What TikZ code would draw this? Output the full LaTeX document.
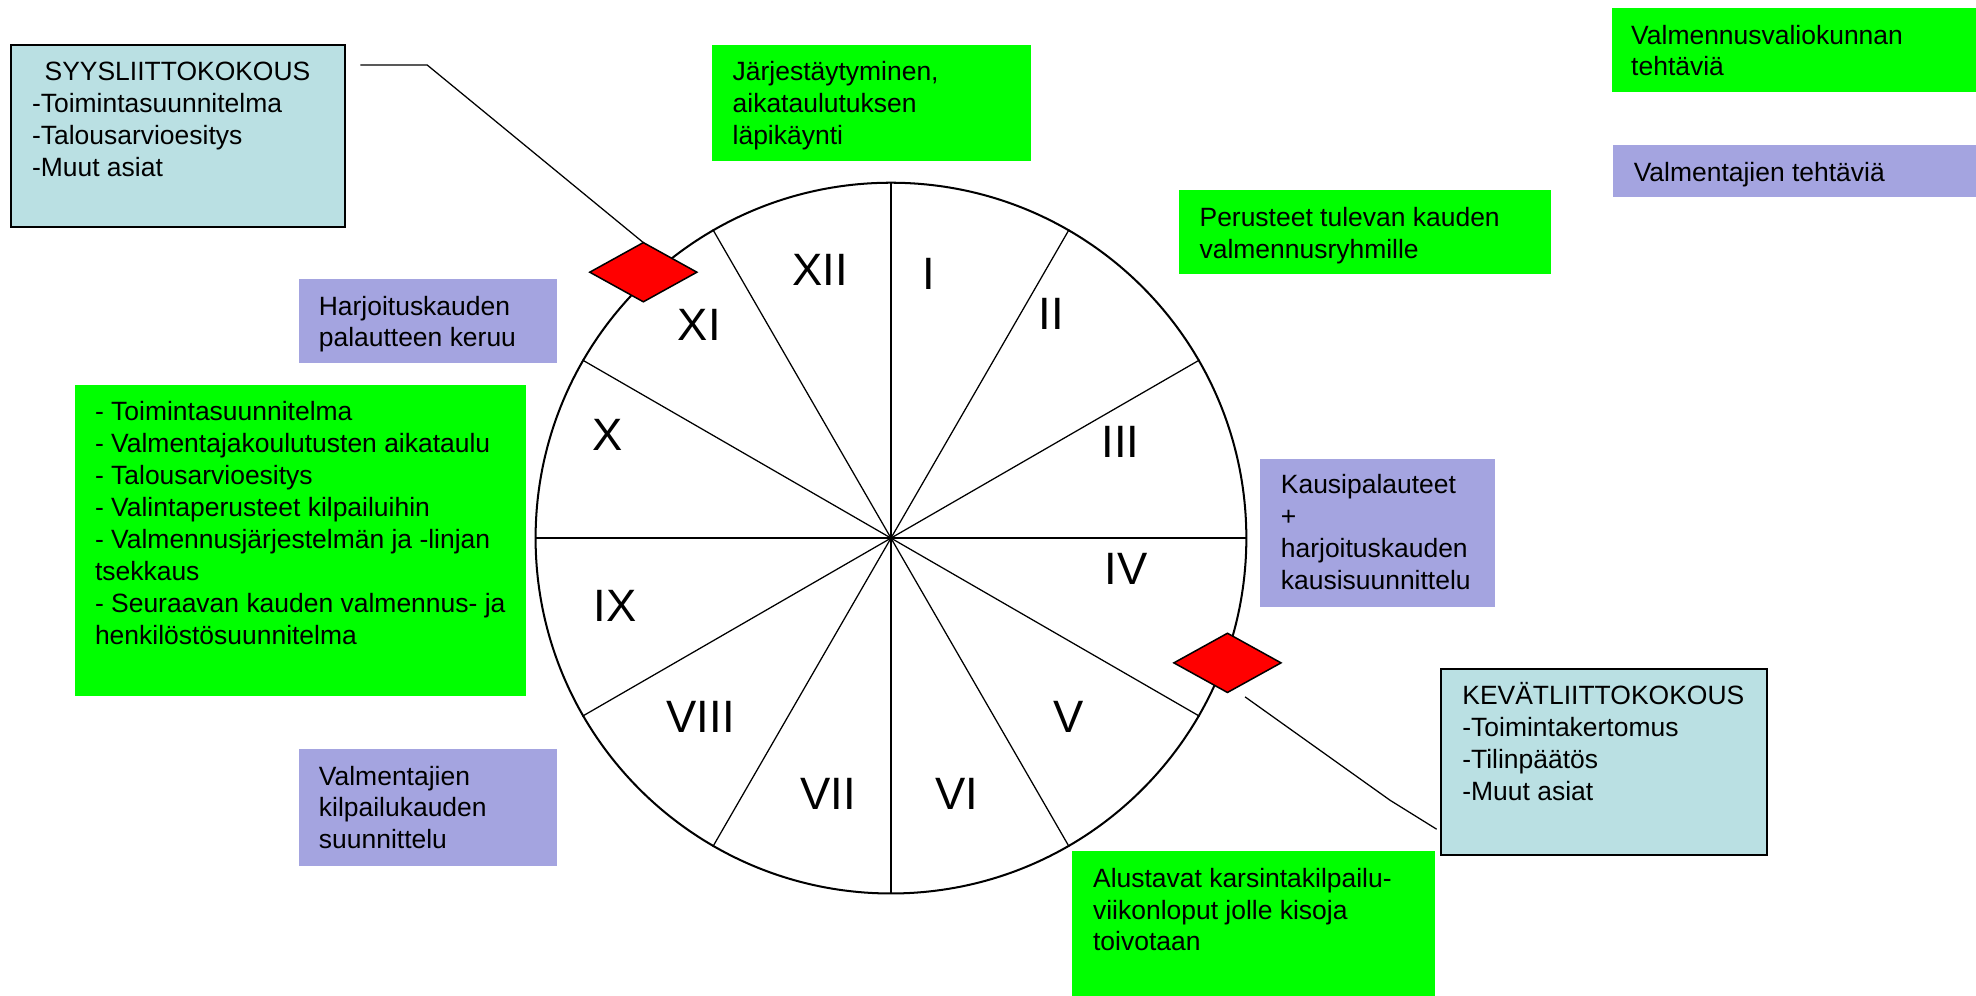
\documentclass[tikz,border=0pt]{standalone}
\usepackage{fontspec}
\setmainfont{Liberation Sans}
\usetikzlibrary{shapes.geometric}
\usetikzlibrary{fit}
\definecolor{boxgreen}{RGB}{0,255,0}
\definecolor{boxlilac}{RGB}{164,164,224}
\definecolor{boxblue}{RGB}{186,224,227}
\tikzset{greenbox/.style={fill=boxgreen, inner sep=0pt}}
\tikzset{lilacbox/.style={fill=boxlilac, inner sep=0pt}}
\tikzset{meetbox/.style={draw, line width=0.8pt, fill=boxblue, inner sep=0pt}}
\tikzset{boxtext/.style={anchor=base west, align=left, inner sep=0pt, font=\fontsize{10.5}{12.65}\selectfont}}
\tikzset{month/.style={font=\fontsize{18}{20}\selectfont, inner sep=0pt}}
\tikzset{meeting/.style={diamond, draw, line width=0.6pt, fill=red, minimum width=42.5pt, minimum height=23.5pt, inner sep=0pt, outer sep=0pt}}
\begin{document}
\begin{tikzpicture}[x=0.5pt, y=-0.5pt]
\useasboundingbox (0,0) rectangle (1568,790);

% year wheel
\node[circle, draw, line width=0.8pt, minimum size=282pt, inner sep=0pt] (wheel) at (707,427) {};
\foreach \a in {0,30,...,330}
  \draw[line width=0.5pt] (wheel.center) -- (wheel.\a);

\foreach \m/\x/\y in {XII/651/214, I/737/217.5, II/834/249, III/889/351, IV/893.7/451.4, V/848/569,
  VI/759/630, VII/657/630, VIII/556/569, IX/488/480.5, X/482/345, XI/555/258}
  \node[month] (m\m) at (\x,\y) {\m};

% meetings (text anchored on its last line)
\node[meetbox, fit={(9,36) (274,180)}] (syys) {};
\node[boxtext] (syystxt) at (25,139.9) {\hspace*{5pt}SYYSLIITTOKOKOUS\\-Toimintasuunnitelma\\-Talousarvioesitys\\-Muut asiat};

\node[meetbox, fit={(1143.7,531.2) (1402.4,678.6)}] (kevat) {};
\node[boxtext] (kevattxt) at (1160,634.9) {KEVÄTLIITTOKOKOUS\\-Toimintakertomus\\-Tilinpäätös\\-Muut asiat};

% valmennusvaliokunta
\node[greenbox, fit={(1279,6) (1568,73)}] (vvk) {};
\node[boxtext] (vvktxt) at (1294,60.3) {Valmennusvaliokunnan\\tehtäviä};

\node[greenbox, fit={(565,36) (818,128)}] (jarj) {};
\node[boxtext] (jarjtxt) at (581,114.6) {Järjestäytyminen,\\aikataulutuksen\\läpikäynti};

\node[greenbox, fit={(935.5,151) (1231,217.5)}] (peru) {};
\node[boxtext] (perutxt) at (951.5,205.3) {Perusteet tulevan kauden\\valmennusryhmille};

\node[greenbox, fit={(59.5,305.6) (417.6,552)}] (lista) {};
\node[boxtext] (listatxt) at (75,511.1) {- Toimintasuunnitelma\\- Valmentajakoulutusten aikataulu\\- Talousarvioesitys\\- Valintaperusteet kilpailuihin\\- Valmennusjärjestelmän ja -linjan\\tsekkaus\\- Seuraavan kauden valmennus- ja\\henkilöstösuunnitelma};

\node[greenbox, fit={(850.7,675.4) (1139,790)}] (karsinta) {};
\node[boxtext] (karsintatxt) at (867,754.6) {Alustavat karsintakilpailu-\\viikonloput jolle kisoja\\toivotaan};

% valmentajat
\node[lilacbox, fit={(1280,115) (1568,156)}] (vtj) {};
\node[boxtext] (vtjtxt) at (1296,144) {Valmentajien tehtäviä};

\node[lilacbox, fit={(237.4,221.4) (442,287.8)}] (palaute) {};
\node[boxtext] (palautetxt) at (252.6,275.3) {Harjoituskauden\\palautteen keruu};

\node[lilacbox, fit={(1000,364) (1186,482)}] (kausi) {};
\node[boxtext] (kausitxt) at (1016,467.9) {Kausipalauteet\\+\\harjoituskauden\\kausisuunnittelu};

\node[lilacbox, fit={(237.2,594.3) (442,687)}] (kilpa) {};
\node[boxtext] (kilpatxt) at (252.7,673.6) {Valmentajien\\kilpailukauden\\suunnittelu};

% markers and pointers
\node[meeting] (syysmark) at (510.5,216) {};
\node[meeting] (kevatmark) at (974,526) {};

\coordinate (syysend) at (286,51.6);
\coordinate (syysbend) at (339,51.6);
\draw[line width=0.5pt] (syysend) -- (syysbend) -- (syysmark.north);
\coordinate (kevatstart) at (988,553);
\coordinate (kevatbend) at (1103,635);
\coordinate (kevatend) at (1140,658);
\draw[line width=0.5pt] (kevatstart) -- (kevatbend) -- (kevatend);

\end{tikzpicture}
\end{document}
